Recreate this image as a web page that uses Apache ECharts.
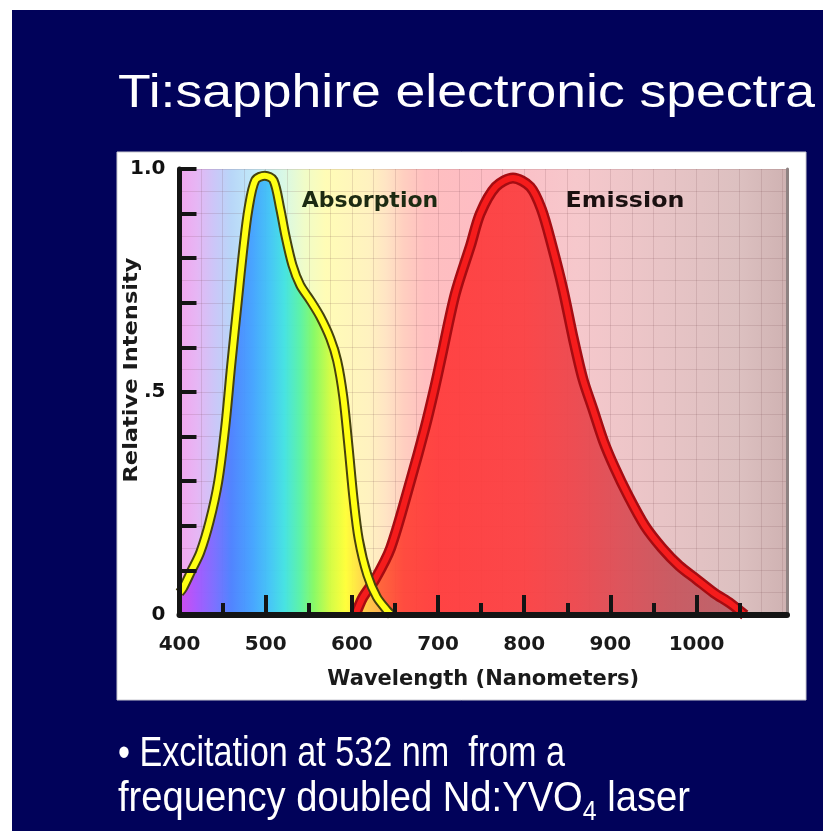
<!DOCTYPE html>
<html><head><meta charset="utf-8">
<script src="https://cdn.jsdelivr.net/npm/echarts@6/dist/echarts.min.js"></script>
<style>html,body{margin:0;padding:0;background:#fff}#c{width:823px;height:831px}</style>
</head><body><div id="c"></div>
<script>
// ---- data ----
const absorptionWavelengths = [400,404,414,424,435,445,453,460,468,474,480,488,499,509,517,523,531,540,552,563,575,583,590,596,602,608,618,629,641,646];
const absorptionValues      = [0.05,0.06,0.10,0.14,0.21,0.30,0.42,0.56,0.71,0.82,0.91,0.975,0.985,0.975,0.91,0.85,0.785,0.74,0.705,0.67,0.62,0.57,0.49,0.38,0.26,0.17,0.09,0.04,0.01,0];
const emissionWavelengths   = [604,613,627,645,668,685,695,703,720,738,749,767,787,807,820,832,845,857,868,880,892,905,920,940,960,980,1000,1020,1040,1056];
const emissionValues        = [0,0.04,0.08,0.15,0.30,0.42,0.50,0.57,0.72,0.83,0.90,0.96,0.98,0.96,0.91,0.83,0.73,0.62,0.53,0.46,0.39,0.33,0.27,0.20,0.15,0.11,0.08,0.05,0.025,0];
const xTickLabels = [400,500,600,700,800,900,1000];
const xMinorTicks = [450,550,650,750,850,950,1050];
const yTickValues = [0,0.1,0.2,0.3,0.4,0.5,0.6,0.7,0.8,0.9,1.0];
const yLabelValues = [0,0.5,1];
const yLabelTexts = ['0','.5','1.0'];
const seriesNames = ['Absorption','Emission'];
const titleText = 'Ti:sapphire electronic spectra';
const xAxisTitle = 'Wavelength (Nanometers)';
const yAxisTitle = 'Relative Intensity';
const noteLine1 = '\u2022 Excitation at 532 nm  from a';
const noteLine2a = 'frequency doubled Nd:YVO';
const noteLine2sub = '4';
const noteLine2b = ' laser';

const X_MIN = 400, X_MAX = 1105;
const zip = (a,b) => a.map((v,i)=>[v,b[i]]);
const absData = zip(absorptionWavelengths, absorptionValues);
const emiData = zip(emissionWavelengths, emissionValues);

function grad(stops, lo, hi){
  return new echarts.graphic.LinearGradient(0,0,1,0, stops.map(([nm,c])=>({offset:Math.min(1,Math.max(0,(nm-lo)/(hi-lo))), color:c})));
}
const bgStops = [[400,'#f2a6ee'],[420,'#e6b6f4'],[440,'#ccc6f8'],[460,'#b8d6f8'],[490,'#c2ecf8'],[520,'#d8f8e6'],[545,'#f0fcc8'],[570,'#fffcb6'],[620,'#fff2c0'],[640,'#ffe4c4'],[660,'#ffcfc0'],[685,'#ffbfc0'],[760,'#fdbcc4'],[860,'#f6c8cc'],[960,'#e8c4c6'],[1050,'#dcc0c0'],[1105,'#cfb2b2']];
const absStops = [[400,'#cf48ee'],[420,'#a456ff'],[440,'#7a6cff'],[460,'#4c80ff'],[485,'#42a2ff'],[505,'#40c4f6'],[522,'#40e2e2'],[540,'#56f2a6'],[556,'#84fa62'],[575,'#d2fc40'],[593,'#ffff36'],[615,'#ffd048'],[640,'#ffae54']];
const emiStops = [[604,'#ff8a34'],[630,'#ff5e32'],[660,'#ff4236'],[700,'#ff3a3a'],[800,'#fb3e40'],[860,'#ec444a'],[910,'#dc4c54'],[970,'#c8545c'],[1056,'#b86068']];

const cv = document.createElement('canvas').getContext('2d');
function measure(t, font){ cv.font = font; return cv.measureText(t).width; }
function fitText(str, font, x, y, targetW, fill){
  const s = targetW / measure(str, font);
  return {type:'text', x, y, scaleX:s, z:50, silent:true,
    style:{text:str, font, fill, textAlign:'left', textVerticalAlign:'middle'}};
}

const chart = echarts.init(document.getElementById('c'), null, {renderer:'canvas'});

const titleFont = '46px "Liberation Sans", Arial, sans-serif';
const noteFont = '43px "Liberation Sans", Arial, sans-serif';
const subFont = '28px "Liberation Sans", Arial, sans-serif';
const w2a = measure(noteLine2a, noteFont), w2s = measure(noteLine2sub, subFont), w2b = measure(noteLine2b, noteFont);
const line2Scale = 572 / (w2a + w2s + w2b);
const labelFont = 'bold 22px "DejaVu Sans", Verdana, sans-serif';
const yNameFont = 'bold 19px "DejaVu Sans", Verdana, sans-serif';

const graphics = [
  {type:'rect', z:-100, silent:true, shape:{x:12,y:10,width:811,height:821}, style:{fill:'#01025a'}},
  {type:'rect', z:-90, silent:true, shape:{x:117,y:152,width:689,height:548}, style:{fill:'#ffffff', stroke:'#c8c8d0', lineWidth:1}},
  fitText(titleText, titleFont, 118, 94, 697, '#ffffff'),
  fitText(noteLine1, noteFont, 118, 754, 447, '#ffffff'),
  {type:'text', x:118, y:799, scaleX:line2Scale, z:50, silent:true, style:{text:noteLine2a, font:noteFont, fill:'#fff', textAlign:'left', textVerticalAlign:'middle'}},
  {type:'text', x:118 + w2a*line2Scale, y:812, scaleX:line2Scale, z:50, silent:true, style:{text:noteLine2sub, font:subFont, fill:'#fff', textAlign:'left', textVerticalAlign:'middle'}},
  {type:'text', x:118 + (w2a+w2s)*line2Scale, y:799, scaleX:line2Scale, z:50, silent:true, style:{text:noteLine2b, font:noteFont, fill:'#fff', textAlign:'left', textVerticalAlign:'middle'}},
  {type:'text', x:370, y:201, z:50, silent:true, style:{text:seriesNames[0], font:labelFont, fill:'#1c2a12', textAlign:'center', textVerticalAlign:'middle'}},
  {type:'text', x:625, y:201, scaleX:1.08, z:50, silent:true, style:{text:seriesNames[1], font:labelFont, fill:'#1a1010', textAlign:'center', textVerticalAlign:'middle'}},
  {type:'text', x:132, y:370, rotation:Math.PI/2, scaleX:225/measure(yAxisTitle,yNameFont), z:50, silent:true, style:{text:yAxisTitle, font:yNameFont, fill:'#1a1a1a', textAlign:'center', textVerticalAlign:'middle'}}
];

const axisColor = '#141414';
const hiddenAxisBits = {axisLine:{show:false}, axisTick:{show:false}, axisLabel:{show:false}};
const SMOOTH = 0.3;
const option = {
  animation:false,
  backgroundColor:'#ffffff',
  grid:{left:179.5, top:169, width:607.5, height:446, show:true, borderWidth:0, backgroundColor:grad(bgStops, X_MIN, X_MAX), containLabel:false},
  xAxis:[
    {type:'value', min:X_MIN, max:X_MAX, interval:100, position:'bottom', z:20,
     axisLine:{show:true, onZero:false, lineStyle:{color:axisColor, width:6}},
     axisTick:{show:true, inside:true, length:20, customValues:xTickLabels, lineStyle:{color:axisColor, width:4}},
     axisLabel:{show:true, customValues:xTickLabels, formatter:v=> v<=1000 ? String(v) : '', margin:20, color:'#1a1a1a', fontFamily:'DejaVu Sans', fontWeight:'bold', fontSize:20},
     splitLine:{show:false},
     name:xAxisTitle, nameLocation:'middle', nameGap:54, nameTextStyle:{color:'#1a1a1a', fontFamily:'DejaVu Sans', fontWeight:'bold', fontSize:21}},
    Object.assign({type:'value', min:X_MIN, max:X_MAX, interval:50, position:'bottom', z:19, splitLine:{show:false}}, hiddenAxisBits,
      {axisTick:{show:true, inside:true, length:12, customValues:xMinorTicks, lineStyle:{color:axisColor, width:4}}}),
    Object.assign({type:'value', min:X_MIN, max:X_MAX, interval:25, position:'bottom', splitLine:{show:true, lineStyle:{color:'rgba(110,60,70,0.15)', width:1}}}, hiddenAxisBits)
  ],
  yAxis:[
    {type:'value', min:0, max:1, interval:0.1, position:'left', z:20,
     axisLine:{show:true, onZero:false, lineStyle:{color:axisColor, width:5}},
     axisTick:{show:true, inside:true, length:17, customValues:yTickValues, lineStyle:{color:axisColor, width:4}},
     axisLabel:{show:true, customValues:yLabelValues, formatter:v=>{const i=yLabelValues.findIndex(u=>Math.abs(u-v)<1e-6); return i<0?'':yLabelTexts[i];}, margin:14, color:'#111', fontFamily:'DejaVu Sans', fontWeight:'bold', fontSize:20},
     splitLine:{show:false}},
    Object.assign({type:'value', min:0, max:1, interval:0.05, position:'left', splitLine:{show:true, lineStyle:{color:'rgba(110,60,70,0.15)', width:1}}}, hiddenAxisBits),
    Object.assign({type:'value', min:0, max:1, position:'right', z:20, splitLine:{show:false}}, hiddenAxisBits, {axisLine:{show:true, onZero:false, lineStyle:{color:'#8e8282', width:3}}})
  ],
  series:[
    {name:seriesNames[1]+' fill', type:'line', data:emiData, smooth:SMOOTH, symbol:'none', silent:true, z:2, lineStyle:{width:0, opacity:0}, areaStyle:{color:grad(emiStops, emissionWavelengths[0], emissionWavelengths[emissionWavelengths.length-1]), opacity:0.93}},
    {name:seriesNames[0]+' fill', type:'line', data:absData, smooth:SMOOTH, symbol:'none', silent:true, z:3, lineStyle:{width:0, opacity:0}, areaStyle:{color:grad(absStops, absorptionWavelengths[0], absorptionWavelengths[absorptionWavelengths.length-1]), opacity:0.95}},
    {name:seriesNames[1]+' edge', type:'line', data:emiData, smooth:SMOOTH, symbol:'none', silent:true, z:4, lineStyle:{color:'#a50c12', width:11}},
    {name:seriesNames[1], type:'line', data:emiData, smooth:SMOOTH, symbol:'none', silent:true, z:5, lineStyle:{color:'#f51c1c', width:6}},
    {name:seriesNames[0]+' edge', type:'line', data:absData, smooth:SMOOTH, symbol:'none', silent:true, z:6, lineStyle:{color:'#45420e', width:10}},
    {name:seriesNames[0], type:'line', data:absData, smooth:SMOOTH, symbol:'none', silent:true, z:7, lineStyle:{color:'#ffff14', width:6}}
  ],
  graphic:{elements:graphics}
};
chart.setOption(option);
</script>
</body></html>
